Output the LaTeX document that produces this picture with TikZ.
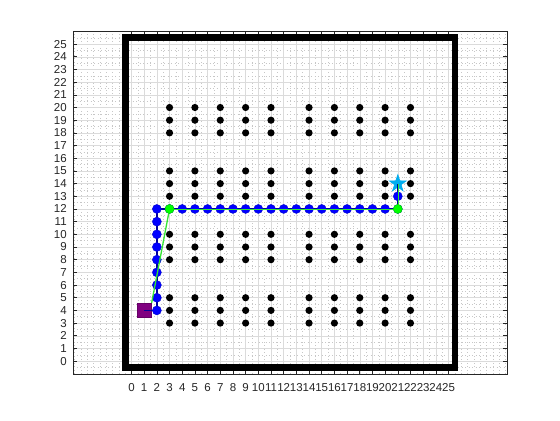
\documentclass[tikz,border=0pt]{standalone}
\usepackage{fontspec}
\setmainfont{Liberation Sans}
\usetikzlibrary{shapes.geometric}
\tikzset{every picture/.style={line width=0.75pt}}
\definecolor{axgray}{rgb}{0.15,0.15,0.15}
\definecolor{gridmaj}{rgb}{0.86,0.86,0.86}
\definecolor{gridmin}{rgb}{0.78,0.78,0.78}
\definecolor{startpurple}{rgb}{0.5,0,0.5}
\definecolor{pathblue}{rgb}{0,0,0.6}
\definecolor{lightgreen}{rgb}{0.2,0.9,0.2}
\tikzset{
  obstacle/.style={circle,fill=black,inner sep=0pt,minimum size=7.2pt},
  pathpt/.style={circle,fill=blue,draw=blue!80!black,line width=0.4pt,inner sep=0pt,minimum size=9pt},
  waypt/.style={circle,fill=green,draw=green!85!black,line width=0.4pt,inner sep=0pt,minimum size=9pt},
  ticklabel/.style={font=\fontsize{11.5}{12}\selectfont,text=axgray,inner sep=0pt},
  tickmark/.style={axgray,line width=0.6pt},
  minorline/.style={gridmin,line width=0.5pt,dash pattern=on 0.5pt off 3pt},
}

\begin{document}
\begin{tikzpicture}[x=12.68pt,y=12.68pt]
    \useasboundingbox[fill=white] (-10.37,-4.645) rectangle (33.79,28.478);

    % Grid
    \foreach \x in {-4.5,-4,...,29.5}
        \draw[minorline] (\x,-1) -- (\x,26);
    \foreach \y in {-0.5,0,...,25.5}
        \draw[minorline] (-4.61,\y) -- (29.61,\y);
    \foreach \i in {0,...,25} {
        \draw[gridmaj,line width=0.5pt] (\i,-1) -- (\i,26);
        \draw[gridmaj,line width=0.5pt] (-4.61,\i) -- (29.61,\i);
    }

    % Axes box, ticks and labels
    \draw[axgray,line width=0.6pt] (-4.61,-1) rectangle (29.61,26);
    \foreach \i in {0,...,25} {
        \draw[tickmark] (\i,-1) -- ++(0,4.3pt);
        \draw[tickmark] (\i,26) -- ++(0,-4.3pt);
        \draw[tickmark] (-4.61,\i) -- ++(4.3pt,0);
        \draw[tickmark] (29.61,\i) -- ++(-4.3pt,0);
        \node[ticklabel,anchor=north,yshift=-9pt] (xt\i) at (\i,-1) {\i};
        \node[ticklabel,anchor=east,xshift=-6pt] (yt\i) at (-4.61,\i) {\i};
    }

    % Walls
    \draw[line width=6.7pt] (-0.5,-0.5) rectangle (25.5,25.5);

    % Obstacles
    \foreach \x in {3,5,7,9,11,14,16,18,20,22}
        \foreach \y in {3,4,5,8,9,10,13,14,15,18,19,20}
            \node[obstacle] (ob-\x-\y) at (\x,\y) {};

    % Path points
    \coordinate (start) at (1,4);
    \coordinate (goal) at (21,14);
    \coordinate (turnA) at (2,4);
    \coordinate (turnB) at (2,12);
    \coordinate (wayA) at (3,12);
    \coordinate (wayB) at (21,12);

    % Start and goal
    \node[rectangle,fill=startpurple,draw=startpurple!80!black,line width=0.4pt,
          minimum size=14.5pt,inner sep=0pt] (startmk) at (start) {};
    \node[star,star points=5,star point ratio=2.6,fill=cyan,draw=cyan,
          minimum size=17.5pt,inner sep=0pt] (goalmk) at (goal) {};

    % Grid path
    \draw[pathblue,line width=1.5pt] (start) -- (turnA) -- (turnB) -- (wayB) -- (goal);
    \foreach \y in {4,...,12}
        \node[pathpt] (pv\y) at (2,\y) {};
    \foreach \x in {3,...,21}
        \node[pathpt] (ph\x) at (\x,12) {};
    \node[pathpt] (pg) at (21,13) {};

    % Shortcut path
    \draw[lightgreen,line width=1.3pt] (startmk.north east) -- (wayA);
    \draw[lightgreen,line width=0.5pt] (wayA) -- (wayB) -- (goal);
    \node[waypt] (wpA) at (wayA) {};
    \node[waypt] (wpB) at (wayB) {};
\end{tikzpicture}
\end{document}
